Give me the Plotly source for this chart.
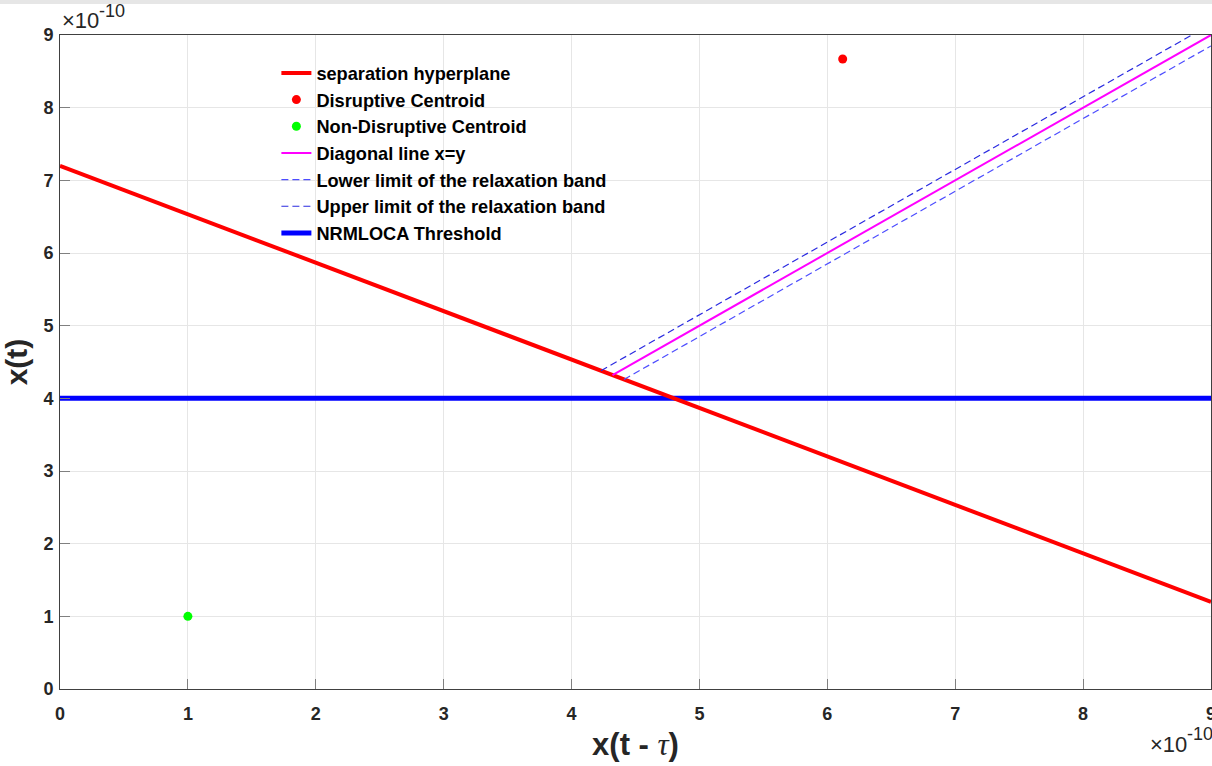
import plotly.graph_objects as go

# Data (units of 1e-10)
hyper_x = [0.0, 9.0]
hyper_y = [7.2, 1.2]
disr_x = [6.12]
disr_y = [8.67]
nondisr_x = [1.0]
nondisr_y = [1.0]
diag_x = [4.32, 9.0]
diag_y = [4.32, 9.0]
lower_x = [4.41, 9.0]
lower_y = [4.26, 8.85]
upper_x = [4.23, 8.85]
upper_y = [4.38, 9.0]
thr_x = [0.0, 9.0]
thr_y = [4.0, 4.0]
ticks = [0, 1, 2, 3, 4, 5, 6, 7, 8, 9]

FONT = "Liberation Sans, Arial, sans-serif"

fig = go.Figure()
fig.add_trace(go.Scatter(x=thr_x, y=thr_y, mode="lines", name="NRMLOCA Threshold",
                         line=dict(color="#0000ff", width=5), legendrank=7, legendgroup="g7"))
fig.add_trace(go.Scatter(x=hyper_x, y=hyper_y, mode="lines", name="separation hyperplane",
                         line=dict(color="#ff0000", width=4), legendrank=1, legendgroup="g1"))
fig.add_trace(go.Scatter(x=disr_x, y=disr_y, mode="markers", name="Disruptive Centroid",
                         marker=dict(color="#ff0000", size=9, symbol="circle"), legendrank=2, legendgroup="g2"))
fig.add_trace(go.Scatter(x=nondisr_x, y=nondisr_y, mode="markers", name="Non-Disruptive Centroid",
                         marker=dict(color="#00ff00", size=9, symbol="circle"), legendrank=3, legendgroup="g3"))
fig.add_trace(go.Scatter(x=diag_x, y=diag_y, mode="lines", name="Diagonal line x=y",
                         line=dict(color="#ff00ff", width=2), legendrank=4, legendgroup="g4"))
fig.add_trace(go.Scatter(x=lower_x, y=lower_y, mode="lines", name="Lower limit of the relaxation band",
                         line=dict(color="#4d4dff", width=1.2, dash="7px,4px"), legendrank=5, legendgroup="g5"))
fig.add_trace(go.Scatter(x=upper_x, y=upper_y, mode="lines", name="Upper limit of the relaxation band",
                         line=dict(color="#2a2ae0", width=1.2, dash="7px,4px"), legendrank=6, legendgroup="g6"))

axis_common = dict(
    range=[0, 9], tickvals=ticks, ticktext=[str(t) for t in ticks],
    showgrid=True, gridcolor="#e6e6e6", gridwidth=1,
    zeroline=False, showline=True, linecolor="#404040", linewidth=1, mirror=True,
    ticks="inside", ticklen=10, tickcolor="#808080",
    ticklabeloverflow="allow", automargin=False,
    tickfont=dict(family=FONT, size=18, color="#262626", weight="bold"),
)

EXP_BASE = "×10"
EXP_POW = "-10"


def exp_label(x, y, text, size):
    return dict(text=text, xref="paper", yref="paper", x=x, y=y,
                xanchor="left", yanchor="middle", showarrow=False, borderpad=0,
                font=dict(family=FONT, size=size, color="#262626"))


fig.update_layout(
    width=1212, height=766,
    margin=dict(l=60, r=1, t=35, b=77),
    paper_bgcolor="white", plot_bgcolor="white",
    font=dict(family=FONT),
    xaxis=dict(**axis_common,
               title=dict(text="x(t - <span style='font-family:Liberation Serif, serif;font-style:italic;font-weight:normal'>τ</span>)",
                          font=dict(family=FONT, size=31, color="#262626", weight="bold"), standoff=10),
               ticklabelstandoff=8),
    yaxis=dict(**axis_common,
               title=dict(text="x(t)", font=dict(family=FONT, size=30, color="#262626", weight="bold"), standoff=8),
               ticklabelstandoff=2),
    legend=dict(x=0.188, y=0.97, xanchor="left", yanchor="top",
                bgcolor="rgba(0,0,0,0)", borderwidth=0,
                font=dict(family=FONT, size=18.2, color="#000000", weight="bold"),
                tracegroupgap=0, itemwidth=30),
    showlegend=True,
    annotations=[
        exp_label(0.0005, 1.0222, EXP_BASE, 22),
        exp_label(0.0330, 1.0360, EXP_POW, 18),
        exp_label(0.9465, -0.0856, EXP_BASE, 22),
        exp_label(0.9783, -0.0690, EXP_POW, 18),
    ],
    shapes=[
        dict(type="rect", xref="paper", yref="paper", x0=-0.06, x1=1.01, y0=1.0475, y1=1.06,
             fillcolor="#e6e6e6", line=dict(width=0), layer="above"),
    ],
)

fig.write_html("out.html", config={"displayModeBar": False},
               post_script="document.body.style.margin='0';document.body.style.overflow='hidden';")
